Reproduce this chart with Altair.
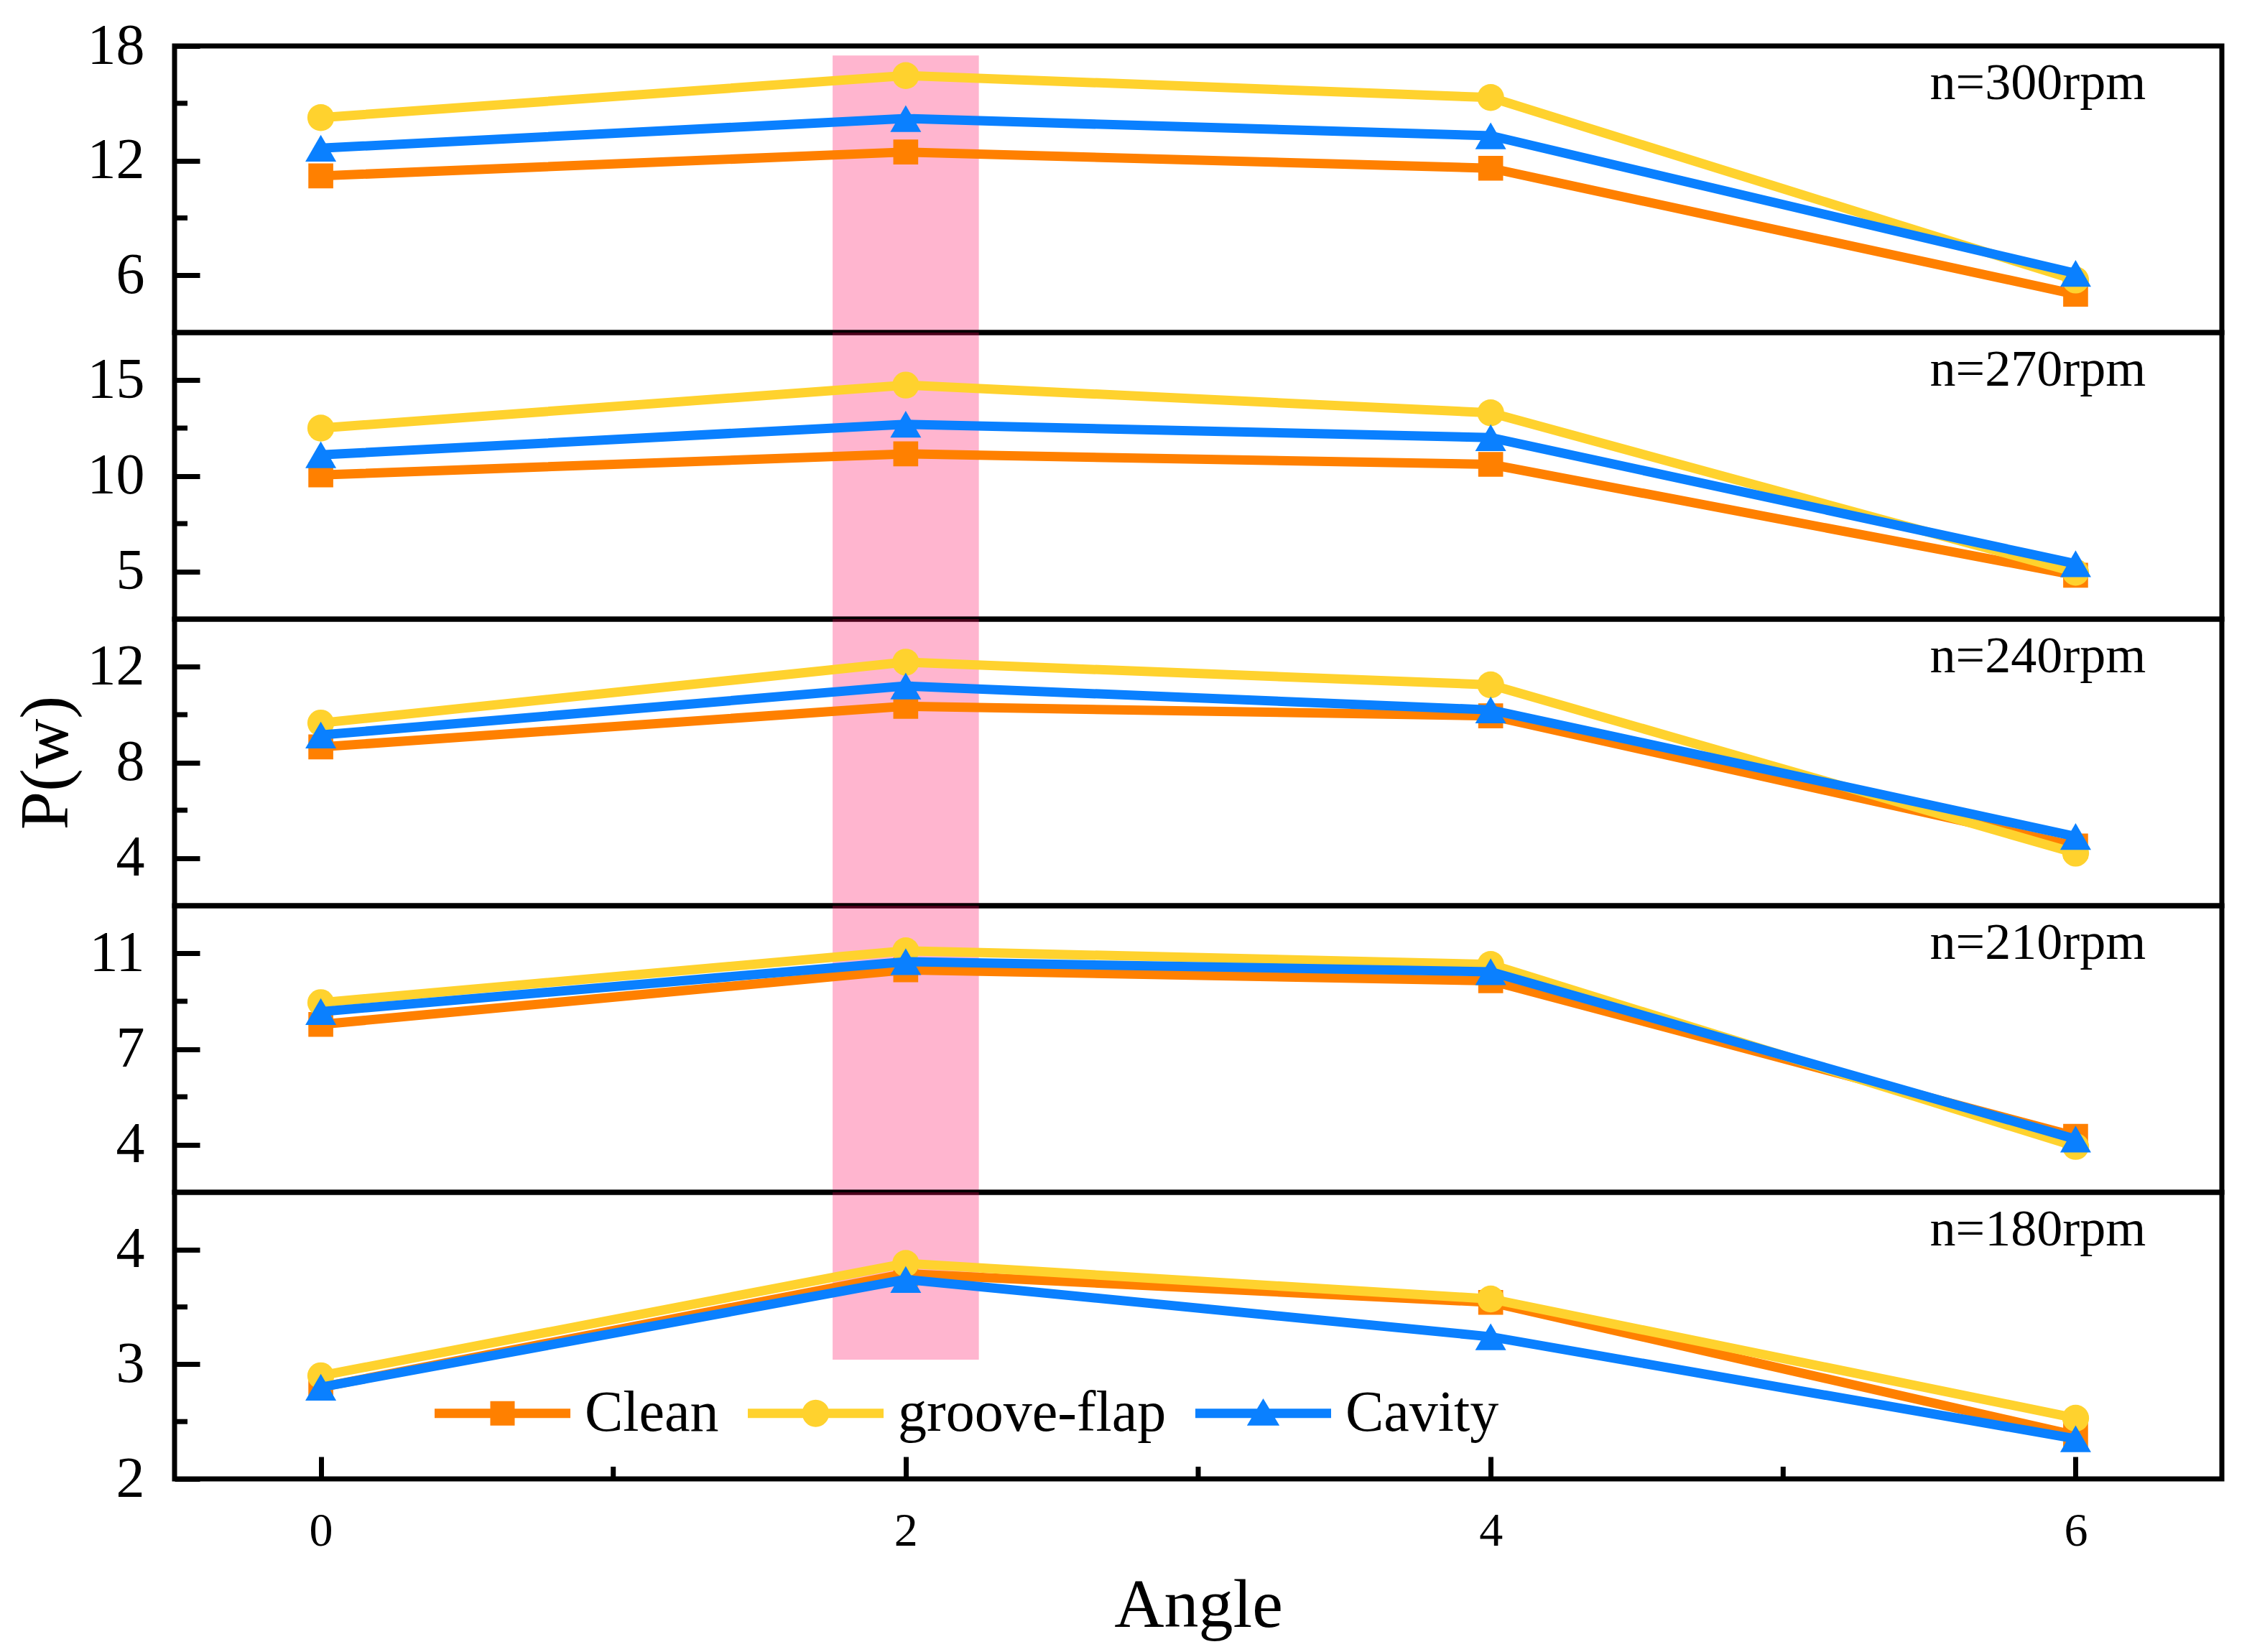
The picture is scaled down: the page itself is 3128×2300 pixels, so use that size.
import altair as alt
import pandas as pd

# ---------------- data ----------------
angles = [0, 2, 4, 6]
series_names = ["Clean", "groove-flap", "Cavity"]
series_colors = ["#FF8000", "#FFD22E", "#0A80FF"]
series_shapes = ["square", "circle", "triangle-up"]
series_sizes = [1200, 1400, 1850]

panel_labels = ["n=300rpm", "n=270rpm", "n=240rpm", "n=210rpm", "n=180rpm"]

clean_300 = [11.2, 12.45, 11.6, 5.0]
groove_300 = [14.25, 16.45, 15.3, 5.75]
cavity_300 = [12.65, 14.2, 13.3, 6.1]

clean_270 = [10.05, 11.15, 10.6, 4.8]
groove_270 = [12.5, 14.75, 13.3, 4.95]
cavity_270 = [11.1, 12.7, 12.0, 5.4]

clean_240 = [8.65, 10.35, 9.95, 4.5]
groove_240 = [9.65, 12.2, 11.25, 4.2]
cavity_240 = [9.15, 11.2, 10.2, 4.9]

clean_210 = [8.4, 10.4, 10.0, 4.3]
groove_210 = [9.2, 11.1, 10.6, 3.93]
cavity_210 = [8.87, 10.7, 10.33, 4.2]

clean_180 = [2.8, 3.79, 3.54, 2.38]
groove_180 = [2.9, 3.88, 3.57, 2.53]
cavity_180 = [2.8, 3.74, 3.24, 2.35]

panel_series = [
    (clean_300, groove_300, cavity_300),
    (clean_270, groove_270, cavity_270),
    (clean_240, groove_240, cavity_240),
    (clean_210, groove_210, cavity_210),
    (clean_180, groove_180, cavity_180),
]

y_domains = [[3, 18], [2.5, 17.5], [2, 14], [2.25, 12.75], [2, 4.5]]
y_major = [[6, 12, 18], [5, 10, 15], [4, 8, 12], [4, 7.5, 11], [2, 3, 4]]
y_minor = [[9, 15], [7.5, 12.5], [6, 10], [5.75, 9.25], [2.5, 3.5]]

x_domain = [-0.5, 6.5]
x_major = [0, 2, 4, 6]
x_minor = [1, 3, 5]

band_x = [1.75, 2.25]
band_top = 17.5
band_bottom = 3.04

label_x = 6.24

# legend symbols: line segment + marker
legend_paths = [
    "M-1,-0.07H1V0.07H-1Z M-0.18,-0.18H0.18V0.18H-0.18Z",
    "M-1,-0.07H1V0.07H-1Z M-0.2,0A0.2,0.2 0 1,1 0.2,0A0.2,0.2 0 1,1 -0.2,0Z",
    "M-1,-0.07H1V0.07H-1Z M0,-0.22L0.24,0.18L-0.24,0.18Z",
]

FONT = "Liberation Serif"
W = 2850
H = 399

panels = []
n = len(panel_labels)
for i in range(n):
    bottom = i == n - 1
    dom = y_domains[i]
    yscale = alt.Scale(domain=dom, nice=False, zero=False)
    xscale = alt.Scale(domain=x_domain, nice=False, zero=False)

    yaxis_kw = dict(
        values=y_major[i], tickSize=35, offset=-35, domain=False, grid=False,
        labelPadding=42, labelFontSize=80, labelFont=FONT, labelColor="black",
        tickColor="black", tickWidth=7, labelOverlap=False, labelFlush=False,
        labelExpr="floor(datum.value)",
    )
    if i == 2:
        yaxis_kw.update(title="P(w)", titleFontSize=96, titleFont=FONT,
                        titleFontWeight="normal", titleColor="black", titlePadding=8)
    else:
        yaxis_kw.update(title=None)
    yaxis = alt.Axis(**yaxis_kw)

    if bottom:
        xaxis = alt.Axis(
            values=x_major, tickSize=31, offset=-31, domain=False, grid=False,
            labelPadding=40, labelFontSize=66, labelFont=FONT, labelColor="black",
            tickColor="black", tickWidth=7, labelOverlap=False, labelFlush=False,
            title="Angle", titleFontSize=96, titleFont=FONT, titleFontWeight="normal",
            titleColor="black", titlePadding=24,
        )
    else:
        xaxis = None

    def X(field):
        return alt.X(field, type="quantitative", scale=xscale, axis=xaxis)

    def Y(field):
        return alt.Y(field, type="quantitative", scale=yscale, axis=yaxis)

    # pink highlight band
    btop = band_top if i == 0 else dom[1]
    bbot = band_bottom if bottom else dom[0]
    band_df = pd.DataFrame({"x0": [band_x[0]], "x1": [band_x[1]], "y0": [bbot], "y1": [btop]})
    band = alt.Chart(band_df).mark_rect(color="#FF005B", opacity=0.29).encode(
        x=X("x0"), x2="x1", y=Y("y1"), y2="y0"
    )
    layers = [band]

    # minor y ticks
    ym_df = pd.DataFrame({"v": y_minor[i]})
    layers.append(
        alt.Chart(ym_df).mark_rule(color="black", strokeWidth=7).encode(
            y=Y("v"), x=alt.value(0), x2=alt.value(18)
        )
    )
    if bottom:
        xm_df = pd.DataFrame({"v": x_minor})
        layers.append(
            alt.Chart(xm_df).mark_rule(color="black", strokeWidth=7).encode(
                x=X("v"), y=alt.value(H - 17), y2=alt.value(H)
            )
        )

    # series lines + markers
    rows = []
    for s, vals in enumerate(panel_series[i]):
        df = pd.DataFrame({"angle": angles, "value": vals, "series": series_names[s]})
        rows.append(df)
        layers.append(
            alt.Chart(df).mark_line(color=series_colors[s], strokeWidth=13).encode(
                x=X("angle"), y=Y("value")
            )
        )
        layers.append(
            alt.Chart(df).mark_point(
                filled=True, shape=series_shapes[s], size=series_sizes[s],
                color=series_colors[s], opacity=1, strokeWidth=0,
            ).encode(x=X("angle"), y=Y("value"))
        )

    # panel label
    lab_df = pd.DataFrame({"x": [label_x], "label": [panel_labels[i]]})
    layers.append(
        alt.Chart(lab_df).mark_text(
            align="right", baseline="alphabetic", fontSize=72, font=FONT, color="black"
        ).encode(x=X("x"), y=alt.value(74), text="label:N")
    )

    # legend (bottom panel only)
    if bottom:
        all_df = pd.concat(rows, ignore_index=True)
        leg = alt.Legend(
            title=None, orient="none", legendX=362, legendY=213, direction="horizontal",
            labelFont=FONT, labelFontSize=80, labelColor="black", labelOffset=20,
            columnPadding=40, symbolStrokeWidth=0, symbolOpacity=1,
            symbolSize=189 * 189, padding=0, labelLimit=1000,
        )
        layers.append(
            alt.Chart(all_df).mark_point(filled=True, opacity=0).encode(
                x=X("angle"), y=Y("value"),
                color=alt.Color("series:N", scale=alt.Scale(domain=series_names, range=series_colors), legend=leg),
                shape=alt.Shape("series:N", scale=alt.Scale(domain=series_names, range=legend_paths), legend=leg),
            )
        )

    panels.append(alt.layer(*layers).properties(width=W, height=H))

chart = (
    alt.vconcat(*panels, spacing=0, bounds="flush")
    .resolve_scale(color="independent", shape="independent")
    .resolve_legend(color="independent", shape="independent")
    .properties(padding={"left": 4, "top": 12, "right": 10, "bottom": 5}, background="white")
    .configure_view(stroke="black", strokeWidth=7)
)

chart.save("out.html", embed_options={"renderer": "svg", "actions": False})
